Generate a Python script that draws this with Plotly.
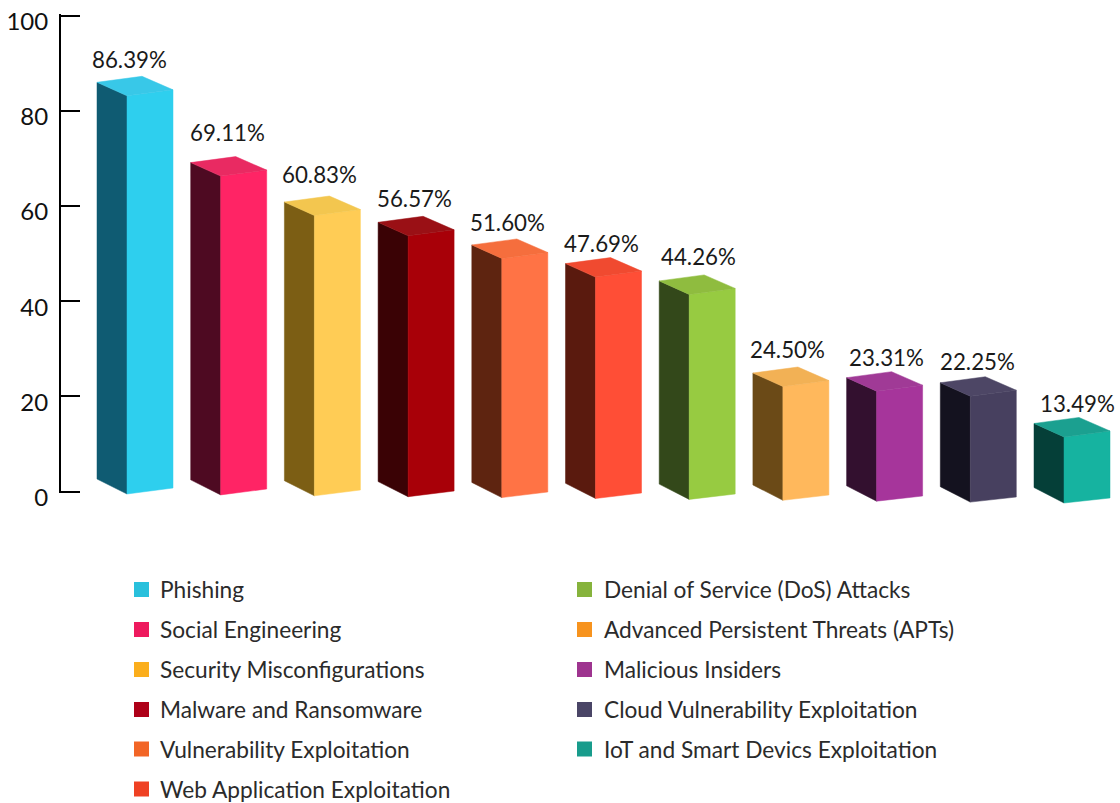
"""Top attack types drawn as hand-built 3D style bars."""

import plotly.graph_objects as go

categories = ['Phishing', 'Social Engineering', 'Security Misconfigurations', 'Malware and Ransomware',
              'Vulnerability Exploitation', 'Web Application Exploitation', 'Denial of Service (DoS) Attacks',
              'Advanced Persistent Threats (APTs)', 'Malicious Insiders', 'Cloud Vulnerability Exploitation',
              'IoT and Smart Devics Exploitation']
values = [86.39, 69.11, 60.83, 56.57, 51.60, 47.69, 44.26, 24.50, 23.31, 22.25, 13.49]
y_ticks = [0, 20, 40, 60, 80, 100]

front_colors = ['#2ECFEE', '#FF2465', '#FFCC55', '#A80008', '#FF7345', '#FF4E36',
                '#97CB41', '#FFB85C', '#A6359B', '#47405F', '#16B3A0']
side_colors = ['#0F5B72', '#4E0A22', '#7C5E14', '#3A0205', '#5E2410', '#5A1A0E',
               '#33481A', '#6B4A17', '#33102F', '#14121F', '#053F38']
top_colors = ['#38C8E8', '#E92A62', '#F3C64F', '#9A1015', '#F56E3D', '#F04A30',
              '#8FBC3F', '#F2B155', '#A03A96', '#4D4665', '#1BA090']
legend_colors = ['#29C0DC', '#EE1A5E', '#FBAE1C', '#AE0018', '#F26526', '#EF4123',
                 '#86B33C', '#F7931E', '#9E348F', '#4A4566', '#189C8C']

WIDTH, HEIGHT = 1120, 803
Y0_PX, Y100_PX = 491.7, 15.5
AXIS_X_PX = 61
FIRST_BAR_PX, BAR_STEP_PX = 97, 93.7
FONT = 'Lato'

# label nudges and the small perspective lift of the later bars, in pixels
label_dx = [32, 37, 35, 36, 36, 36, 39, 35, 40, 37, 43]
label_dy = [21, 30, 28, 24, 23, 21, 24, 26, 23, 24, 24]
bar_lift = [-2, 0, 0, 0, 1, 1, 0, 2, 3, 3, 4]

px_per_value = (Y0_PX - Y100_PX) / 100


def v_of(px):
    return (Y0_PX - px) / px_per_value


def x_of(px):
    return (px - FIRST_BAR_PX) / BAR_STEP_PX


def add_face(fig, xs, ys, color):
    fig.add_trace(go.Scatter(x=xs, y=ys, mode='lines', fill='toself', fillcolor=color,
                             line=dict(color=color, width=0.5), hoverinfo='skip', showlegend=False))


def add_bar(fig, i, value, front, side, top):
    """Draws one box from its value, the back left top corner sits on the value"""
    dx = 1 / BAR_STEP_PX
    dv = 1 / px_per_value
    back_left, front_left, front_right, back_right = i, i + 30 * dx, i + 76 * dx, i + 45 * dx
    top_v = value + bar_lift[i] * dv
    # floor drops a little from bar to bar
    floor_back = v_of(479 + 0.85 * i)
    floor_front = v_of(494 + 0.9 * i)
    floor_right = v_of(488 + 1.0 * i)
    add_face(fig, [back_left, front_left, front_left, back_left, back_left],
             [top_v, top_v - 13.5 * dv, floor_front, floor_back, top_v], side)
    add_face(fig, [front_left, front_right, front_right, front_left, front_left],
             [top_v - 13.5 * dv, top_v - 7.5 * dv, floor_right, floor_front, top_v - 13.5 * dv], front)
    add_face(fig, [back_left, back_right, front_right, front_left, back_left],
             [top_v, top_v + 6 * dv, top_v - 7.5 * dv, top_v - 13.5 * dv, top_v], top)


fig = go.Figure()
for i, value in enumerate(values):
    add_bar(fig, i, value, front_colors[i], side_colors[i], top_colors[i])

# the visible y axis lives on its own subplot so the boxes can hang below zero
fig.add_trace(go.Scatter(x=list(range(len(values))), y=values, mode='none', xaxis='x2', yaxis='y2',
                         hoverinfo='skip', showlegend=False))

annotations = []
for i, value in enumerate(values):
    annotations.append(dict(x=i, y=value, xref='x', yref='y', text=f'{value:.2f}%', showarrow=False,
                            xanchor='center', yanchor='middle', xshift=label_dx[i], yshift=label_dy[i],
                            font=dict(family=FONT, size=22.3, color='#1a1a1a')))

legend_x = [134] * 6 + [577] * 5
legend_text_x = [158] * 6 + [602] * 5
legend_y = [589.5, 629.5, 669.5, 709.5, 749, 789, 589.5, 629.5, 669.5, 709.5, 749]
shapes = []
for i, name in enumerate(categories):
    shapes.append(dict(type='rect', xref='paper', yref='paper', line_width=0, fillcolor=legend_colors[i],
                       x0=legend_x[i] / WIDTH, x1=(legend_x[i] + 15) / WIDTH,
                       y0=1 - (legend_y[i] + 7.5) / HEIGHT, y1=1 - (legend_y[i] - 7.5) / HEIGHT))
    annotations.append(dict(x=legend_text_x[i] / WIDTH, y=1 - legend_y[i] / HEIGHT, xref='paper', yref='paper',
                            text=name, showarrow=False, xanchor='left', yanchor='middle',
                            font=dict(family=FONT, size=22.7, color='#2b2b2b')))

# end ticks get dropped when they sit exactly on the axis ends, so pad the range a hair
axis_pad = 0.3
fig.update_layout(
    template='none',
    width=WIDTH, height=HEIGHT, margin=dict(l=0, r=0, t=0, b=0, pad=0), autosize=False,
    paper_bgcolor='white', plot_bgcolor='rgba(0,0,0,0)', showlegend=False,
    shapes=shapes, annotations=annotations,
    xaxis=dict(domain=[0, 1], range=[x_of(0), x_of(WIDTH)], visible=False),
    yaxis=dict(domain=[0, 1], range=[v_of(HEIGHT), v_of(0)], visible=False),
    xaxis2=dict(domain=[AXIS_X_PX / WIDTH, 1], range=[x_of(AXIS_X_PX), x_of(WIDTH)], visible=False, anchor='y2'),
    yaxis2=dict(domain=[1 - v_px / HEIGHT for v_px in (Y0_PX + axis_pad * px_per_value, Y100_PX - axis_pad * px_per_value)],
                range=[-axis_pad, 100 + axis_pad], anchor='x2', automargin=False,
                tickvals=y_ticks, ticks='inside', ticklen=19, tickwidth=2, tickcolor='black',
                showline=True, linecolor='black', linewidth=2, showgrid=False, zeroline=False,
                ticklabelstandoff=6, ticklabelshift=6, ticklabeloverflow='allow',
                tickfont=dict(family=FONT, size=24, color='#111111')),
)

fig.write_html('out.html', config={'displayModeBar': False},
               post_script="document.body.style.margin='0';document.documentElement.style.overflow='hidden';")
